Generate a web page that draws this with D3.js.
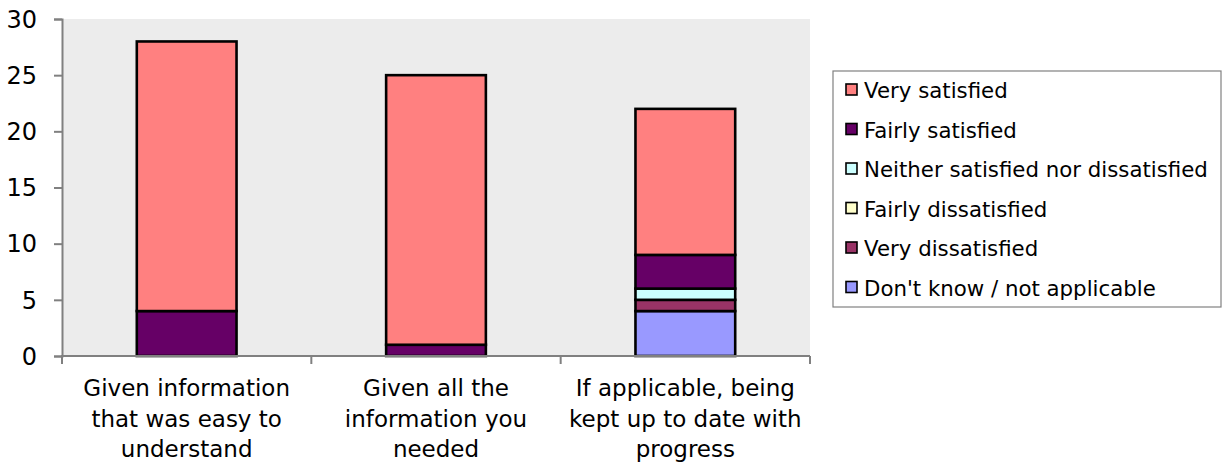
<!DOCTYPE html>
<html><head><meta charset="utf-8">
<script src="https://cdn.jsdelivr.net/npm/d3@7"></script>
<style>body{margin:0;background:#fff;} text{font-family:"DejaVu Sans",sans-serif;fill:#000;}</style>
</head><body>
<svg id="c" width="1222" height="466"></svg>
<script>
const categories = [
  ["Given information", "that was easy to", "understand"],
  ["Given all the", "information you", "needed"],
  ["If applicable, being", "kept up to date with", "progress"]
];
const seriesNames = ["Don't know / not applicable","Very dissatisfied","Fairly dissatisfied","Neither satisfied nor dissatisfied","Fairly satisfied","Very satisfied"];
const seriesColors = ["#9999FF","#993366","#FFFFCC","#CCFFFF","#660066","#FF8080"];
const dontKnow = [0,0,4];
const veryDis = [0,0,1];
const fairlyDis = [0,0,0];
const neither = [0,0,1];
const fairlySat = [4,1,3];
const verySat = [24,24,13];
const yTicks = [0,5,10,15,20,25,30];

const values = [dontKnow, veryDis, fairlyDis, neither, fairlySat, verySat];
const rows = categories.map((c,i)=>{const r={cat:i}; seriesNames.forEach((s,j)=>r[s]=values[j][i]); return r;});
const stack = d3.stack().keys(seriesNames)(rows);

const svg = d3.select("#c");
const L=62,R=810,T=19,B=356;
const x = d3.scaleBand().domain([0,1,2]).range([L,R]).paddingInner(0.6).paddingOuter(0.3);
const xc = d3.scaleBand().domain([0,1,2]).range([L,R]);
const y = d3.scaleLinear().domain([0,30]).range([B,T]);

svg.append("rect").attr("x",L).attr("y",T).attr("width",R-L).attr("height",B-T).attr("fill","#ECECEC");

stack.forEach((s,j)=>{
  svg.append("g").selectAll("rect").data(s.filter(d=>d[1]>d[0])).join("rect")
    .attr("x",d=>x(d.data.cat)).attr("width",x.bandwidth())
    .attr("y",d=>y(d[1])).attr("height",d=>y(d[0])-y(d[1]))
    .attr("fill",seriesColors[j]).attr("stroke","#000").attr("stroke-width",2.6);
});

// y axis
const ya = svg.append("g").attr("transform",`translate(${L},0)`)
  .call(d3.axisLeft(y).tickValues(yTicks).tickSize(8).tickPadding(17));
ya.select(".domain").attr("stroke","#808080").attr("stroke-width",2);
ya.selectAll(".tick line").attr("stroke","#808080").attr("stroke-width",2);
ya.selectAll("text").attr("font-size",24).attr("font-family","Liberation Sans, Arial, sans-serif").attr("fill","#000").attr("dy","0.34em");

// x axis
svg.append("line").attr("x1",L-1).attr("x2",R).attr("y1",B).attr("y2",B).attr("stroke","#808080").attr("stroke-width",2);
[0,1,2].forEach(i=>{
  svg.append("line").attr("x1",xc(i)).attr("x2",xc(i)).attr("y1",B).attr("y2",B+8).attr("stroke","#808080").attr("stroke-width",2);
});
svg.append("line").attr("x1",R).attr("x2",R).attr("y1",B).attr("y2",B+8).attr("stroke","#808080").attr("stroke-width",2);

categories.forEach((lines,i)=>{
  const t = svg.append("text").attr("text-anchor","middle").attr("font-size",23)
    .attr("x",xc(i)+xc.bandwidth()/2).attr("y",396);
  lines.forEach((ln,k)=>t.append("tspan").attr("x",xc(i)+xc.bandwidth()/2).attr("dy",k?30.5:0).text(ln));
});

// legend
const lg = svg.append("g");
lg.append("rect").attr("x",833).attr("y",71).attr("width",388).attr("height",236).attr("fill","#fff").attr("stroke","#808080").attr("stroke-width",1.2);
const legOrder = [5,4,3,2,1,0];
legOrder.forEach((j,k)=>{
  const cy = 90 + k*39.5;
  lg.append("rect").attr("x",846).attr("y",cy-6).attr("width",11).attr("height",11)
    .attr("fill",seriesColors[j]).attr("stroke","#000").attr("stroke-width",1.6);
  lg.append("text").attr("x",864).attr("y",cy+8).attr("font-size",21.3).text(seriesNames[j]);
});
</script>
</body></html>
